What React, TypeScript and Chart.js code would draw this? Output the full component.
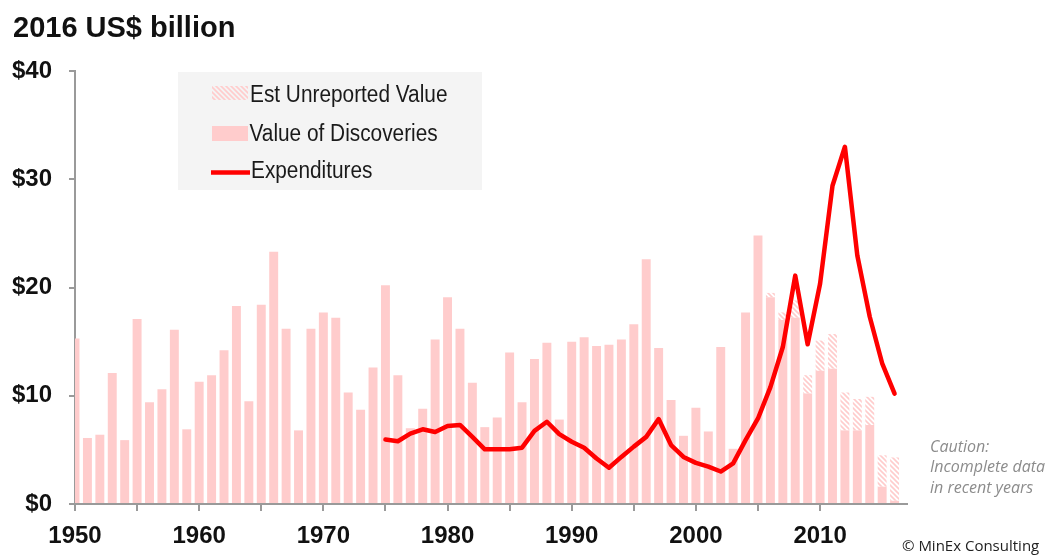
import React, { useEffect, useRef } from 'react';
import { Chart, registerables } from 'chart.js';

Chart.register(...registerables);

// ---- data ----
const YEARS = [
  1950, 1951, 1952, 1953, 1954, 1955, 1956, 1957, 1958, 1959,
  1960, 1961, 1962, 1963, 1964, 1965, 1966, 1967, 1968, 1969,
  1970, 1971, 1972, 1973, 1974, 1975, 1976, 1977, 1978, 1979,
  1980, 1981, 1982, 1983, 1984, 1985, 1986, 1987, 1988, 1989,
  1990, 1991, 1992, 1993, 1994, 1995, 1996, 1997, 1998, 1999,
  2000, 2001, 2002, 2003, 2004, 2005, 2006, 2007, 2008, 2009,
  2010, 2011, 2012, 2013, 2014, 2015, 2016,
];

// Value of Discoveries (2016 US$ billion)
const DISCOVERIES = [
  15.3, 6.1, 6.4, 12.1, 5.9, 17.1, 9.4, 10.6, 16.1, 6.9,
  11.3, 11.9, 14.2, 18.3, 9.5, 18.4, 23.3, 16.2, 6.8, 16.2,
  17.7, 17.2, 10.3, 8.7, 12.6, 20.2, 11.9, 7.0, 8.8, 15.2,
  19.1, 16.2, 11.2, 7.1, 8.0, 14.0, 9.4, 13.4, 14.9, 7.8,
  15.0, 15.4, 14.6, 14.7, 15.2, 16.6, 22.6, 14.4, 9.6, 6.3,
  8.9, 6.7, 14.5, 5.1, 17.7, 24.8, 19.1, 17.0, 17.2, 10.2,
  12.3, 12.5, 6.8, 6.8, 7.3, 1.6, 0.3,
];

// Est Unreported Value (stacked on top of discoveries)
const UNREPORTED = [
  0, 0, 0, 0, 0, 0, 0, 0, 0, 0,
  0, 0, 0, 0, 0, 0, 0, 0, 0, 0,
  0, 0, 0, 0, 0, 0, 0, 0, 0, 0,
  0, 0, 0, 0, 0, 0, 0, 0, 0, 0,
  0, 0, 0, 0, 0, 0, 0, 0, 0, 0,
  0, 0, 0, 0, 0, 0, 0.4, 0.7, 1.6, 1.7,
  2.8, 3.2, 3.5, 2.9, 2.6, 2.9, 4.0,
];

const EXP_YEARS = [
  1975, 1976, 1977, 1978, 1979, 1980, 1981, 1982, 1983, 1984,
  1985, 1986, 1987, 1988, 1989, 1990, 1991, 1992, 1993, 1994,
  1995, 1996, 1997, 1998, 1999, 2000, 2001, 2002, 2003, 2004,
  2005, 2006, 2007, 2008, 2009, 2010, 2011, 2012, 2013, 2014,
  2015, 2016,
];

const EXPENDITURES = [
  5.95, 5.8, 6.5, 6.9, 6.65, 7.2, 7.3, 6.2, 5.05, 5.05,
  5.05, 5.2, 6.75, 7.6, 6.45, 5.75, 5.2, 4.2, 3.35, 4.35,
  5.3, 6.2, 7.85, 5.45, 4.35, 3.8, 3.45, 3.0, 3.75, 5.9,
  7.9, 10.8, 14.5, 21.1, 14.75, 20.35, 29.4, 33.0, 22.95, 17.3,
  13.0, 10.2,
];

const Y_MIN = 0;
const Y_MAX = 40;
const Y_STEP = 10;
const X_MIN = 1950;
const X_MAX = 2017;
const X_STEP = 5;
const X_LABEL_EVERY = 10;

const TITLE = '2016 US$ billion';
const LEGEND_LABELS = ['Est Unreported Value', 'Value of Discoveries', 'Expenditures'];
const CAUTION_LINES = ['Caution:', 'Incomplete data', 'in recent years'];
const COPYRIGHT = '\u00A9 MinEx Consulting';

// ---- styles ----
const PINK = '#ffcccc';
const RED = '#ff0000';
const AXIS = '#9a9a9a';
const FONT = '"Liberation Sans", Arial, Helvetica, sans-serif';

function makeHatch(ctx: CanvasRenderingContext2D): CanvasPattern | string {
  const c = document.createElement('canvas');
  c.width = 5;
  c.height = 5;
  const g = c.getContext('2d');
  if (!g) return PINK;
  g.strokeStyle = PINK;
  g.lineWidth = 1.6;
  g.beginPath();
  g.moveTo(-1, -1);
  g.lineTo(6, 6);
  g.moveTo(-1, 4);
  g.lineTo(1, 6);
  g.moveTo(4, -1);
  g.lineTo(6, 1);
  g.stroke();
  return ctx.createPattern(c, 'repeat') || PINK;
}

export default function App() {
  const ref = useRef<HTMLCanvasElement | null>(null);

  useEffect(() => {
    const canvas = ref.current;
    if (!canvas) return;
    const ctx0 = canvas.getContext('2d') as CanvasRenderingContext2D;
    const hatch = makeHatch(ctx0);

    const decor = {
      id: 'decor',
      beforeDatasetsDraw(chart: any) {
        const ctx: CanvasRenderingContext2D = chart.ctx;
        ctx.save();
        // legend box
        ctx.fillStyle = '#f4f4f4';
        ctx.fillRect(178, 72, 304, 118);
        // swatches
        ctx.fillStyle = hatch as any;
        ctx.fillRect(212, 86, 36, 14);
        ctx.fillStyle = PINK;
        ctx.fillRect(212, 126, 36, 15);
        ctx.strokeStyle = RED;
        ctx.lineWidth = 4.5;
        ctx.beginPath();
        ctx.moveTo(211, 172.5);
        ctx.lineTo(250, 172.5);
        ctx.stroke();
        // legend text
        ctx.fillStyle = '#1a1a1a';
        ctx.font = `23px ${FONT}`;
        ctx.textBaseline = 'alphabetic';
        ctx.textAlign = 'left';
        const baselines = [101.5, 140.5, 178];
        const xs = [250, 249.5, 251];
        LEGEND_LABELS.forEach((t, i) => {
          ctx.save();
          ctx.translate(xs[i], baselines[i]);
          ctx.scale(0.905, 1);
          ctx.fillText(t, 0, 0);
          ctx.restore();
        });
        ctx.restore();
      },
      afterDraw(chart: any) {
        const ctx: CanvasRenderingContext2D = chart.ctx;
        ctx.save();
        ctx.textAlign = 'left';
        ctx.textBaseline = 'alphabetic';
        ctx.fillStyle = '#111';
        ctx.font = `bold 29px ${FONT}`;
        ctx.fillText(TITLE, 13, 36.5);

        ctx.fillStyle = '#8c8c8c';
        ctx.font = 'italic 16px "Open Sans", "DejaVu Sans", sans-serif';
        const cb = [451.5, 472, 492.5];
        CAUTION_LINES.forEach((t, i) => ctx.fillText(t, 930, cb[i]));

        ctx.fillStyle = '#222';
        ctx.font = '15px "Open Sans", "DejaVu Sans", sans-serif';
        ctx.fillText(COPYRIGHT, 902, 551);
        ctx.restore();
      },
    };

    const chart = new Chart(canvas, {
      type: 'bar',
      data: {
        datasets: [
          {
            type: 'line',
            label: LEGEND_LABELS[2],
            data: EXP_YEARS.map((x, i) => ({ x, y: EXPENDITURES[i] })),
            borderColor: RED,
            backgroundColor: RED,
            borderWidth: 4.5,
            pointRadius: 0,
            tension: 0,
            fill: false,
            stack: 'exp',
            borderJoinStyle: 'round',
            borderCapStyle: 'round',
          } as any,
          {
            type: 'bar',
            label: LEGEND_LABELS[1],
            data: YEARS.map((x, i) => ({ x, y: DISCOVERIES[i] })),
            backgroundColor: PINK,
            borderWidth: 0,
            stack: 'bars',
          } as any,
          {
            type: 'bar',
            label: LEGEND_LABELS[0],
            data: YEARS.map((x, i) => ({ x, y: UNREPORTED[i] })),
            backgroundColor: hatch as any,
            borderWidth: 0,
            stack: 'bars',
          } as any,
        ],
      },
      options: {
        animation: false,
        responsive: false,
        maintainAspectRatio: false,
        devicePixelRatio: 1,
        layout: { padding: { left: 0, right: 144, top: 71, bottom: 0 } },
        plugins: {
          legend: { display: false },
          tooltip: { enabled: false },
          title: { display: false },
        },
        scales: {
          x: {
            type: 'linear',
            min: X_MIN,
            max: X_MAX,
            offset: false,
            afterBuildTicks: (scale: any) => {
              scale.ticks = scale.ticks.filter((t: any) => t.value % X_STEP === 0);
            },
            afterFit: (scale: any) => {
              scale.height = 53;
            },
            ticks: {
              stepSize: X_STEP,
              autoSkip: false,
              maxRotation: 0,
              minRotation: 0,
              padding: 11,
              color: '#111',
              font: { family: FONT, size: 24, weight: 'bold' },
              callback: (v: any) => (Number(v) % X_LABEL_EVERY === 0 ? String(v) : ''),
            },
            grid: {
              display: true,
              drawOnChartArea: false,
              drawTicks: true,
              tickLength: 7,
              color: AXIS,
              lineWidth: 2,
              offset: false,
            },
            border: { display: true, color: AXIS, width: 2 },
          },
          y: {
            type: 'linear',
            stacked: true,
            min: Y_MIN,
            max: Y_MAX,
            afterFit: (scale: any) => {
              scale.width = 75;
            },
            ticks: {
              stepSize: Y_STEP,
              padding: 17,
              color: '#111',
              font: { family: FONT, size: 24, weight: 'bold' },
              callback: (v: any) => '$' + v,
            },
            grid: {
              display: true,
              drawOnChartArea: false,
              drawTicks: true,
              tickLength: 6,
              color: AXIS,
              lineWidth: 2,
            },
            border: { display: true, color: AXIS, width: 2 },
          },
        },
      } as any,
      plugins: [decor],
    });

    return () => chart.destroy();
  }, []);

  return (
    <div style={{ position: 'fixed', left: 0, top: 0, width: 1051, height: 557, background: '#fff' }}>
      <canvas ref={ref} width={1051} height={557} style={{ width: 1051, height: 557, display: 'block' }} />
    </div>
  );
}
